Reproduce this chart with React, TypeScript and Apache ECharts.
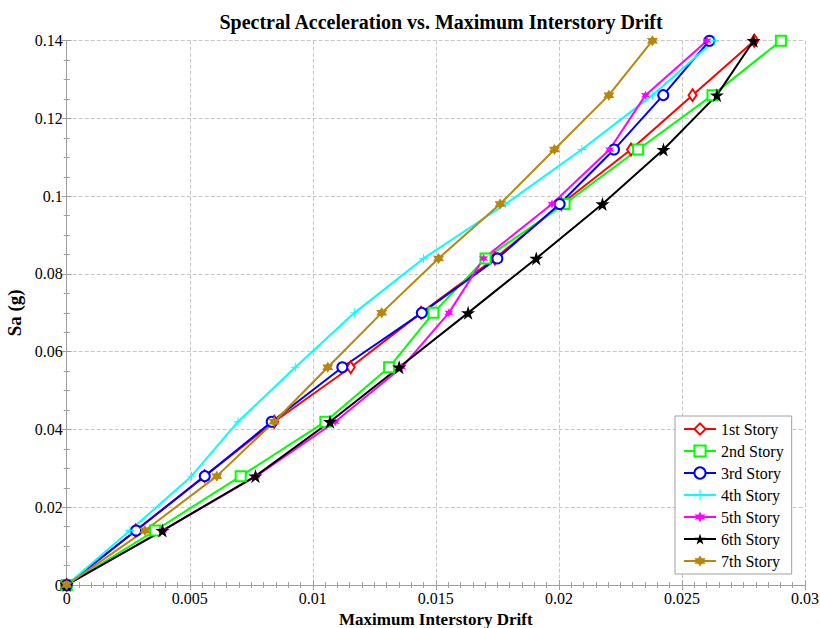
import React, { useEffect, useRef } from "react";
import * as echarts from "echarts";

const saLevels = [0, 0.014, 0.028, 0.042, 0.056, 0.07, 0.084, 0.098, 0.112, 0.126, 0.14];
const drift1 = [0, 0.0028, 0.0056, 0.00843, 0.01154, 0.0144, 0.0174, 0.0201, 0.02293, 0.02543, 0.02794];
const drift2 = [0, 0.00359, 0.00707, 0.01051, 0.0131, 0.0149, 0.01702, 0.02023, 0.02322, 0.02624, 0.02902];
const drift3 = [0, 0.00282, 0.00561, 0.00833, 0.0112, 0.01443, 0.0175, 0.02003, 0.02224, 0.02424, 0.02612];
const drift4 = [0, 0.00257, 0.00507, 0.00696, 0.00929, 0.01169, 0.0145, 0.01783, 0.02093, 0.0238, 0.02631];
const drift5 = [0, 0.0039, 0.0077, 0.01091, 0.01362, 0.01553, 0.01694, 0.01972, 0.02206, 0.02352, 0.02602];
const drift6 = [0, 0.00389, 0.00767, 0.0107, 0.01351, 0.01631, 0.01908, 0.02177, 0.02425, 0.02642, 0.02791];
const drift7 = [0, 0.00318, 0.0061, 0.00843, 0.01061, 0.0128, 0.01511, 0.01761, 0.01982, 0.02203, 0.0238];

const seriesNames = ["1st Story", "2nd Story", "3rd Story", "4th Story", "5th Story", "6th Story", "7th Story"];
const seriesDrifts = [drift1, drift2, drift3, drift4, drift5, drift6, drift7];
const seriesColors = ["#ff0000", "#00ff00", "#0000ff", "#00ffff", "#ff00ff", "#000000", "#b8860b"];

const PLUS = "path://M45,0L55,0L55,45L100,45L100,55L55,55L55,100L45,100L45,55L0,55L0,45L45,45Z";
const PENTA = "path://M50,0L61.2,34.5L97.6,34.5L68.2,55.9L79.4,90.5L50,69.1L20.6,90.5L31.8,55.9L2.4,34.5L38.8,34.5Z";
const HEXA = "path://M50,0L93.3,75L6.7,75Z M50,100L6.7,25L93.3,25Z";
const ASTER = "path://M50,0L62,30L93,25L74,50L93,75L62,70L50,100L38,70L7,75L26,50L7,25L38,30Z";

const seriesSymbols: any[] = [
  { symbol: "emptyDiamond", size: [8, 12] },
  { symbol: "emptyRect", size: 10 },
  { symbol: "emptyCircle", size: 10 },
  { symbol: PLUS, size: 9 },
  { symbol: ASTER, size: 9 },
  { symbol: PENTA, size: 14 },
  { symbol: HEXA, size: 11 },
];

const FONT = "Liberation Serif, Times New Roman, serif";

export default function App() {
  const ref = useRef<HTMLDivElement>(null);
  useEffect(() => {
    if (!ref.current) return;
    const chart = echarts.init(ref.current, undefined, { renderer: "svg" });
    const axisLine = { show: true, lineStyle: { color: "#a0a0a0", width: 1 } };
    const tick = { show: true, inside: true, length: 5, lineStyle: { color: "#a0a0a0" } };
    const minorTick = { show: true, length: 3, lineStyle: { color: "#a0a0a0" } };
    const series = seriesNames.map((name, i) => ({
      name,
      type: "line",
      data: seriesDrifts[i].map((d, j) => [d, saLevels[j]]),
      symbol: seriesSymbols[i].symbol,
      symbolSize: seriesSymbols[i].size,
      showAllSymbol: true,
      lineStyle: { color: seriesColors[i], width: 2 },
      itemStyle: {
        color: seriesColors[i],
        borderColor: seriesColors[i],
        borderWidth: i < 3 ? 1.6 : 0,
      },
      emphasis: { disabled: true },
    }));
    chart.setOption({
      animation: false,
      title: {
        text: "Spectral Acceleration vs. Maximum Interstory Drift",
        left: 436,
        textAlign: "center",
        top: 7,
        textStyle: { fontFamily: FONT, fontWeight: "bold", fontSize: 20, color: "#000" },
      },
      grid: {
        left: 66.7,
        right: 15,
        top: 40.7,
        bottom: 43,
        containLabel: false,
        outerBoundsMode: "none",
      },
      legend: {
        orient: "vertical",
        left: 675,
        top: 416,
        padding: [5, 8],
        itemWidth: 32,
        itemHeight: 14,
        itemGap: 6,
        backgroundColor: "#ffffff",
        borderColor: "#a0a0a0",
        borderWidth: 1,
        borderRadius: 0,
        textStyle: { fontFamily: FONT, fontSize: 16, color: "#000" },
        data: seriesNames,
      },
      xAxis: [
        {
          type: "value",
          min: 0,
          max: 0.03,
          interval: 0.005,
          name: "Maximum Interstory Drift",
          nameLocation: "middle",
          nameGap: 26,
          nameTextStyle: { fontFamily: FONT, fontWeight: "bold", fontSize: 17, color: "#000" },
          axisLine,
          axisTick: tick,
          minorTick: { ...minorTick, splitNumber: 10 },
          axisLabel: { fontFamily: FONT, fontSize: 16, color: "#000", margin: 5 },
          splitLine: { show: true, lineStyle: { color: "#c8c8c8", type: "dashed", width: 1 } },
        },
        {
          type: "value",
          position: "top",
          min: 0,
          max: 0.03,
          interval: 0.005,
          axisLine,
          axisTick: tick,
          minorTick: { ...minorTick, splitNumber: 10 },
          axisLabel: { show: false },
          splitLine: { show: false },
        },
      ],
      yAxis: [
        {
          type: "value",
          min: 0,
          max: 0.14,
          interval: 0.02,
          name: "Sa (g)",
          nameLocation: "middle",
          nameGap: 34,
          nameTextStyle: { fontFamily: FONT, fontWeight: "bold", fontSize: 19, color: "#000" },
          axisLine,
          axisTick: tick,
          minorTick: { ...minorTick, splitNumber: 4 },
          axisLabel: { fontFamily: FONT, fontSize: 16, color: "#000", margin: 4 },
          splitLine: { show: true, lineStyle: { color: "#c8c8c8", type: "dashed", width: 1 } },
        },
        {
          type: "value",
          position: "right",
          min: 0,
          max: 0.14,
          interval: 0.02,
          axisLine,
          axisTick: tick,
          minorTick: { ...minorTick, splitNumber: 4 },
          axisLabel: { show: false },
          splitLine: { show: false },
        },
      ],
      series,
    });
    return () => chart.dispose();
  }, []);
  return (
    <div
      ref={ref}
      style={{ position: "fixed", left: 0, top: 0, width: 820, height: 628, background: "#fff" }}
    />
  );
}
